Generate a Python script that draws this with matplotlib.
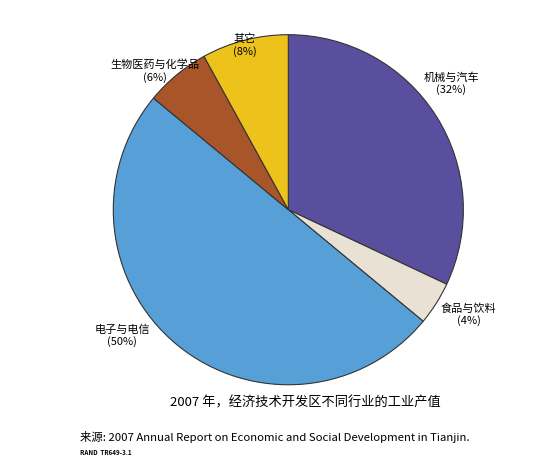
import matplotlib
matplotlib.use("Agg")
import matplotlib.pyplot as plt

plt.rcParams['font.family'] = ['Noto Sans CJK SC', 'DejaVu Sans']

# industry share of output value, clockwise from 12 o'clock
sectors = ["机械与汽车", "食品与饮料", "电子与电信", "生物医药与化学品", "其它"]
shares = [32, 4, 50, 6, 8]
colors = ["#5a4f9f", "#e9e1d3", "#56a0d7", "#a9552a", "#ecc21b"]
# label anchor positions in pie units (radius = 1)
label_pos = [(0.93, 0.72), (1.03, -0.6), (-0.95, -0.72), (-0.76, 0.79), (-0.25, 0.94)]

fig = plt.figure(figsize=(5.55, 4.75), dpi=100)
ax = fig.add_axes([0.204, 0.19, 0.631, 0.737])
ax.pie(shares, colors=colors, startangle=90, counterclock=False,
       wedgeprops=dict(edgecolor="#333333", linewidth=0.8))
ax.set_aspect("equal")
ax.set_xlim(-1.0, 1.0)
ax.set_ylim(-1.0, 1.0)

for name, val, (x, y) in zip(sectors, shares, label_pos):
    ax.text(x, y, f"{name}\n({val}%)", ha="center", va="center", fontsize=8,
            linespacing=1.2, clip_on=False)

fig.text(0.55, 0.152, "2007 年，经济技术开发区不同行业的工业产值",
         ha="center", va="center", fontsize=9.5)
fig.text(0.144, 0.08, "来源: 2007 Annual Report on Economic and Social Development in Tianjin.",
         ha="left", va="center", fontsize=8.2)
fig.text(0.144, 0.047, "RAND  TR649-3.1", ha="left", va="center", fontsize=4.5,
         fontweight="bold")

fig.savefig("out.png", dpi=100)
